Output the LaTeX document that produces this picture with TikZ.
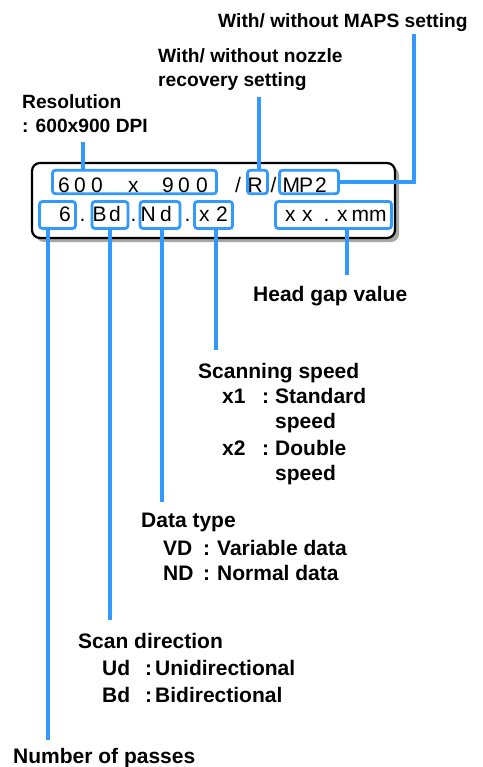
\documentclass[tikz,border=0pt]{standalone}
\usepackage{fontspec}
\setmainfont{Liberation Sans}
\definecolor{lblue}{RGB}{51,153,255}
\begin{document}
\begin{tikzpicture}[x=1pt,y=-1pt,
 lbl/.style={anchor=base west,inner sep=0,font=\bfseries\fontsize{21}{25}\selectfont},
 lbls/.style={anchor=base west,inner sep=0,font=\bfseries\fontsize{19.2}{24}\selectfont},
 btxt/.style={anchor=base west,inner sep=0,font=\fontsize{21}{24}\selectfont},
 bbox/.style={draw=lblue,line width=2.8pt,rounded corners=3pt,inner sep=0,fill=white},
 conn/.style={draw=lblue,line width=3.8pt},
 panel/.style={draw=black,line width=2.2pt,fill=white,rounded corners=8pt,inner sep=0},
 shadowbox/.style={fill=black!35,rounded corners=8pt,inner sep=0},
]
\useasboundingbox (0,0) rectangle (482,767);
% panel with shadow
\node[shadowbox,minimum width=363pt,minimum height=75pt] (shadow) at (217.5,204.5) {};
\node[panel,minimum width=363pt,minimum height=75pt] (panel) at (213.5,200.5) {};
% blue boxes
\node[bbox,minimum width=164pt,minimum height=23.5pt] (res) at (134.5,182) {};
\node[bbox,minimum width=20pt,minimum height=23.5pt] (rec) at (257.5,182) {};
\node[bbox,minimum width=59pt,minimum height=23.5pt] (maps) at (309,182) {};
\node[bbox,minimum width=36pt,minimum height=27pt] (pass) at (57.5,215) {};
\node[bbox,minimum width=36pt,minimum height=27pt] (scan) at (110,215) {};
\node[bbox,minimum width=40pt,minimum height=27pt] (dtype) at (160,215) {};
\node[bbox,minimum width=38pt,minimum height=27pt] (speed) at (213.5,215) {};
\node[bbox,minimum width=116pt,minimum height=27pt] (gap) at (333.5,215) {};
% texts in the panel, row 1
\foreach \ch/\xx [count=\i] in {6/58,0/74,0/91,x/128,9/162,0/178,0/196,R/247.5,M/282.5,P/299,2/315}
  \node[btxt] (ra\i) at (\xx,193) {\ch};
\node[btxt] (slashA) at (235,193) {/};
\node[btxt] (slashB) at (270.5,193) {/};
% row 2
\foreach \ch/\xx [count=\i] in {6/59,./79.5,B/92.5,d/109,./130.5,N/140.5,d/160,./184.5,x/199,2/216,x/285,x/302,./323.5,x/337,m/351.5,m/369}
  \node[btxt] (rb\i) at (\xx,222) {\ch};
% labels
\node[lbls] (lMaps) at (218,28) {With/ without MAPS setting};
\node[lbls] (lNoz1) at (158,63) {With/ without nozzle};
\node[lbls] (lNoz2) at (158,87) {recovery setting};
\node[lbls] (lRes1) at (22,109) {Resolution};
\node[lbls] (lRes2) at (22,133) {: 600x900 DPI};
\node[lbl] (lGap) at (253,301) {Head gap value};
\node[lbl] (lSpd) at (198,378) {Scanning speed};
\node[lbl] (lx1) at (222,403) {x1};
\node[lbl] (lc1) at (262,403) {:};
\node[lbl] (lStd) at (275,403) {Standard};
\node[lbl] (lsp1) at (275,428) {speed};
\node[lbl] (lx2) at (222,455) {x2};
\node[lbl] (lc2) at (262,455) {:};
\node[lbl] (lDbl) at (275,455) {Double};
\node[lbl] (lsp2) at (275,480) {speed};
\node[lbl] (lDt) at (141,527) {Data type};
\node[lbl] (lVD) at (163,555) {VD};
\node[lbl] (lc3) at (203,555) {:};
\node[lbl] (lVar) at (217,555) {Variable data};
\node[lbl] (lND) at (163,580) {ND};
\node[lbl] (lc4) at (203,580) {:};
\node[lbl] (lNor) at (217,580) {Normal data};
\node[lbl] (lSd) at (78,648) {Scan direction};
\node[lbl] (lUd) at (102,675) {Ud};
\node[lbl] (lc5) at (145,675) {:};
\node[lbl] (lUni) at (155,675) {Unidirectional};
\node[lbl] (lBd) at (102,702) {Bd};
\node[lbl] (lc6) at (145,702) {:};
\node[lbl] (lBi) at (155,702) {Bidirectional};
\node[lbl] (lNum) at (13,763) {Number of passes};
% connectors
\coordinate (eMaps) at (414,34);
\coordinate (eRec) at (259,97);
\coordinate (eRes) at (83,142);
\coordinate (ePass) at (48,740);
\coordinate (eScan) at (110,620);
\coordinate (eDt) at (162,502);
\coordinate (eSpd) at (216,350);
\coordinate (eGap) at (347,275);
\draw[conn] (maps.east) -| (eMaps);
\draw[conn] (rec.north -| eRec) -- (eRec);
\draw[conn] (res.north -| eRes) -- (eRes);
\draw[conn] (pass.south -| ePass) -- (ePass);
\draw[conn] (scan.south -| eScan) -- (eScan);
\draw[conn] (dtype.south -| eDt) -- (eDt);
\draw[conn] (speed.south -| eSpd) -- (eSpd);
\draw[conn] (gap.south -| eGap) -- (eGap);
\end{tikzpicture}
\end{document}
